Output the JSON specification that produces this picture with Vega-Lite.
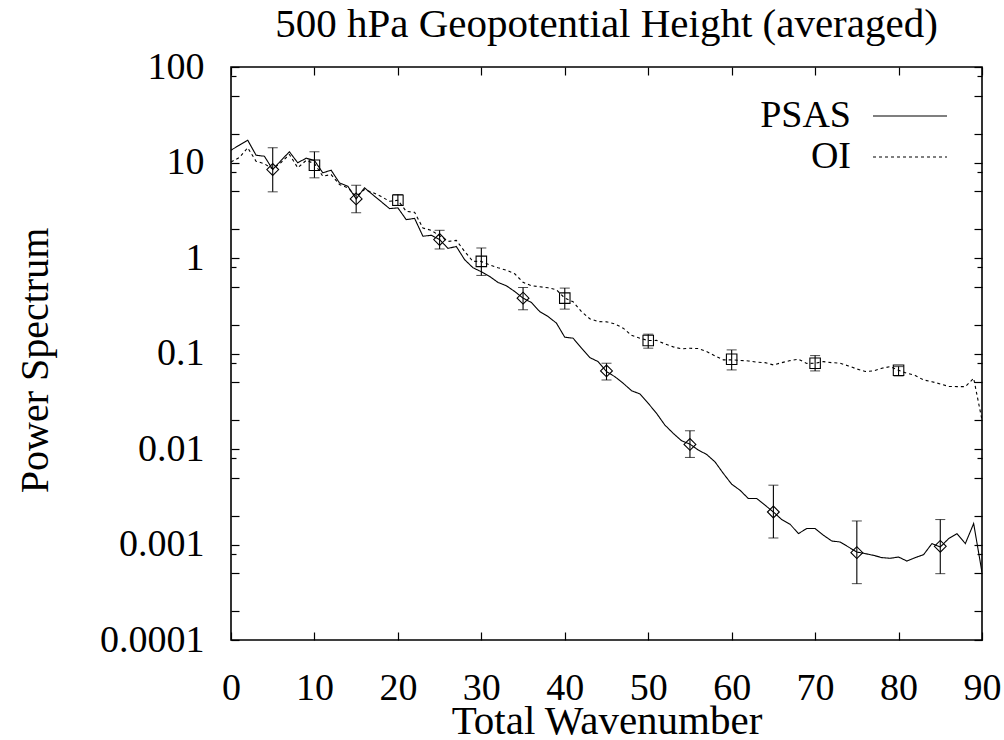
{
  "$schema": "https://vega.github.io/schema/vega-lite/v6.json",
  "width": 751,
  "height": 573,
  "autosize": {"type": "none"},
  "padding": {"left": 231, "top": 67, "right": 22, "bottom": 100},
  "background": "white",
  "title": {
    "text": "500 hPa Geopotential Height (averaged)",
    "font": "Liberation Serif",
    "fontSize": 41,
    "fontWeight": "normal",
    "color": "black",
    "anchor": "middle",
    "baseline": "alphabetic",
    "offset": -30
  },
  "config": {
    "view": {"stroke": "black", "strokeWidth": 1.6},
    "axis": {
      "grid": false,
      "domain": false,
      "labelFont": "Liberation Serif",
      "labelFontSize": 38,
      "labelColor": "black",
      "titleFont": "Liberation Serif",
      "titleFontSize": 40,
      "titleFontWeight": "normal",
      "titleColor": "black",
      "tickColor": "black",
      "tickWidth": 1.2,
      "labelFlush": false,
      "labelOverlap": false,
      "labelBound": false
    },
    "legend": {
      "labelFont": "Liberation Serif",
      "labelFontSize": 38,
      "labelColor": "black"
    }
  },
  "datasets": {
    "curves": [
      {"k":0,"series":"PSAS","value":13.46},{"k":1,"series":"PSAS","value":15.19},{"k":2,"series":"PSAS","value":17.14},{"k":3,"series":"PSAS","value":11.93},{"k":4,"series":"PSAS","value":11.64},{"k":5,"series":"PSAS","value":8.44},{"k":6,"series":"PSAS","value":10.5},{"k":7,"series":"PSAS","value":12.95},{"k":8,"series":"PSAS","value":9.93},{"k":9,"series":"PSAS","value":11.09},
      {"k":10,"series":"PSAS","value":10.5},{"k":11,"series":"PSAS","value":7.8},{"k":12,"series":"PSAS","value":8.3},{"k":13,"series":"PSAS","value":6.12},{"k":14,"series":"PSAS","value":5.64},{"k":15,"series":"PSAS","value":4.16},{"k":16,"series":"PSAS","value":5.43},{"k":17,"series":"PSAS","value":4.59},{"k":18,"series":"PSAS","value":3.89},{"k":19,"series":"PSAS","value":3.29},
      {"k":20,"series":"PSAS","value":3.35},{"k":21,"series":"PSAS","value":2.52},{"k":22,"series":"PSAS","value":2.6},{"k":23,"series":"PSAS","value":1.69},{"k":24,"series":"PSAS","value":1.73},{"k":25,"series":"PSAS","value":1.56},{"k":26,"series":"PSAS","value":1.26},{"k":27,"series":"PSAS","value":1.32},{"k":28,"series":"PSAS","value":0.96},{"k":29,"series":"PSAS","value":0.791},
      {"k":30,"series":"PSAS","value":0.718},{"k":31,"series":"PSAS","value":0.641},{"k":32,"series":"PSAS","value":0.555},{"k":33,"series":"PSAS","value":0.512},{"k":34,"series":"PSAS","value":0.446},{"k":35,"series":"PSAS","value":0.38},{"k":36,"series":"PSAS","value":0.342},{"k":37,"series":"PSAS","value":0.275},{"k":38,"series":"PSAS","value":0.244},{"k":39,"series":"PSAS","value":0.208},
      {"k":40,"series":"PSAS","value":0.148},{"k":41,"series":"PSAS","value":0.1447},{"k":42,"series":"PSAS","value":0.1137},{"k":43,"series":"PSAS","value":0.0906},{"k":44,"series":"PSAS","value":0.0822},{"k":45,"series":"PSAS","value":0.0646},{"k":46,"series":"PSAS","value":0.0572},{"k":47,"series":"PSAS","value":0.0488},{"k":48,"series":"PSAS","value":0.0408},{"k":49,"series":"PSAS","value":0.0377},
      {"k":50,"series":"PSAS","value":0.0301},{"k":51,"series":"PSAS","value":0.0236},{"k":52,"series":"PSAS","value":0.0178},{"k":53,"series":"PSAS","value":0.01458},{"k":54,"series":"PSAS","value":0.01219},{"k":55,"series":"PSAS","value":0.01125},{"k":56,"series":"PSAS","value":0.00974},{"k":57,"series":"PSAS","value":0.00878},{"k":58,"series":"PSAS","value":0.00734},{"k":59,"series":"PSAS","value":0.00555},
      {"k":60,"series":"PSAS","value":0.00428},{"k":61,"series":"PSAS","value":0.0037},{"k":62,"series":"PSAS","value":0.00303},{"k":63,"series":"PSAS","value":0.00303},{"k":64,"series":"PSAS","value":0.00258},{"k":65,"series":"PSAS","value":0.00219},{"k":66,"series":"PSAS","value":0.001825},{"k":67,"series":"PSAS","value":0.00163},{"k":68,"series":"PSAS","value":0.0013},{"k":69,"series":"PSAS","value":0.00147},
      {"k":70,"series":"PSAS","value":0.00147},{"k":71,"series":"PSAS","value":0.00125},{"k":72,"series":"PSAS","value":0.001088},{"k":73,"series":"PSAS","value":0.001062},{"k":74,"series":"PSAS","value":0.000941},{"k":75,"series":"PSAS","value":0.000834},{"k":76,"series":"PSAS","value":0.000803},{"k":77,"series":"PSAS","value":0.00077},{"k":78,"series":"PSAS","value":0.000729},{"k":79,"series":"PSAS","value":0.000717},
      {"k":80,"series":"PSAS","value":0.000739},{"k":81,"series":"PSAS","value":0.000671},{"k":82,"series":"PSAS","value":0.000729},{"k":83,"series":"PSAS","value":0.000783},{"k":84,"series":"PSAS","value":0.001022},{"k":85,"series":"PSAS","value":0.000941},{"k":86,"series":"PSAS","value":0.001153},{"k":87,"series":"PSAS","value":0.0013},{"k":88,"series":"PSAS","value":0.001022},{"k":89,"series":"PSAS","value":0.001657},
      {"k":90,"series":"PSAS","value":0.000511},
      {"k":0,"series":"OI","value":10.12},{"k":1,"series":"OI","value":11.28},{"k":2,"series":"OI","value":14.27},{"k":3,"series":"OI","value":10.32},{"k":4,"series":"OI","value":9.69},{"k":5,"series":"OI","value":8.59},{"k":6,"series":"OI","value":10.0},{"k":7,"series":"OI","value":12.13},{"k":8,"series":"OI","value":8.8},{"k":9,"series":"OI","value":10.5},
      {"k":10,"series":"OI","value":9.76},{"k":11,"series":"OI","value":7.18},{"k":12,"series":"OI","value":7.48},{"k":13,"series":"OI","value":5.88},{"k":14,"series":"OI","value":5.43},{"k":15,"series":"OI","value":4.43},{"k":16,"series":"OI","value":5.21},{"k":17,"series":"OI","value":4.84},{"k":18,"series":"OI","value":4.4},{"k":19,"series":"OI","value":3.93},
      {"k":20,"series":"OI","value":4.02},{"k":21,"series":"OI","value":3.08},{"k":22,"series":"OI","value":3.01},{"k":23,"series":"OI","value":2.06},{"k":24,"series":"OI","value":1.95},{"k":25,"series":"OI","value":1.71},{"k":26,"series":"OI","value":1.49},{"k":27,"series":"OI","value":1.53},{"k":28,"series":"OI","value":1.17},{"k":29,"series":"OI","value":0.921},
      {"k":30,"series":"OI","value":0.921},{"k":31,"series":"OI","value":0.845},{"k":32,"series":"OI","value":0.791},{"k":33,"series":"OI","value":0.745},{"k":34,"series":"OI","value":0.684},{"k":35,"series":"OI","value":0.557},{"k":36,"series":"OI","value":0.512},{"k":37,"series":"OI","value":0.5},{"k":38,"series":"OI","value":0.488},{"k":39,"series":"OI","value":0.465},
      {"k":40,"series":"OI","value":0.38},{"k":41,"series":"OI","value":0.348},{"k":42,"series":"OI","value":0.275},{"k":43,"series":"OI","value":0.231},{"k":44,"series":"OI","value":0.216},{"k":45,"series":"OI","value":0.2146},{"k":46,"series":"OI","value":0.2045},{"k":47,"series":"OI","value":0.1843},{"k":48,"series":"OI","value":0.1548},{"k":49,"series":"OI","value":0.1447},
      {"k":50,"series":"OI","value":0.1366},{"k":51,"series":"OI","value":0.1371},{"k":52,"series":"OI","value":0.1261},{"k":53,"series":"OI","value":0.1173},{"k":54,"series":"OI","value":0.1117},{"k":55,"series":"OI","value":0.1135},{"k":56,"series":"OI","value":0.1126},{"k":57,"series":"OI","value":0.1047},{"k":58,"series":"OI","value":0.0944},{"k":59,"series":"OI","value":0.0857},
      {"k":60,"series":"OI","value":0.0857},{"k":61,"series":"OI","value":0.0847},{"k":62,"series":"OI","value":0.0836},{"k":63,"series":"OI","value":0.0811},{"k":64,"series":"OI","value":0.0802},{"k":65,"series":"OI","value":0.0759},{"k":66,"series":"OI","value":0.0802},{"k":67,"series":"OI","value":0.0843},{"k":68,"series":"OI","value":0.0871},{"k":69,"series":"OI","value":0.0787},
      {"k":70,"series":"OI","value":0.0791},{"k":71,"series":"OI","value":0.0822},{"k":72,"series":"OI","value":0.0802},{"k":73,"series":"OI","value":0.0791},{"k":74,"series":"OI","value":0.0741},{"k":75,"series":"OI","value":0.0689},{"k":76,"series":"OI","value":0.0649},{"k":77,"series":"OI","value":0.0657},{"k":78,"series":"OI","value":0.0701},{"k":79,"series":"OI","value":0.0729},
      {"k":80,"series":"OI","value":0.0668},{"k":81,"series":"OI","value":0.0621},{"k":82,"series":"OI","value":0.0589},{"k":83,"series":"OI","value":0.0528},{"k":84,"series":"OI","value":0.0507},{"k":85,"series":"OI","value":0.048},{"k":86,"series":"OI","value":0.0452},{"k":87,"series":"OI","value":0.045},{"k":88,"series":"OI","value":0.045},{"k":89,"series":"OI","value":0.055},
      {"k":90,"series":"OI","value":0.0201}
    ],
    "bars": [
      {"k":5,"run":"PSAS","value":8.44,"lo":4.93,"hi":14.27},
      {"k":15,"run":"PSAS","value":4.16,"lo":2.97,"hi":5.78},
      {"k":25,"run":"PSAS","value":1.56,"lo":1.243,"hi":1.95},
      {"k":35,"run":"PSAS","value":0.38,"lo":0.287,"hi":0.491},
      {"k":45,"run":"PSAS","value":0.0657,"lo":0.0528,"hi":0.0791},
      {"k":55,"run":"PSAS","value":0.01117,"lo":0.00816,"hi":0.01552},
      {"k":65,"run":"PSAS","value":0.00219,"lo":0.00117,"hi":0.00418},
      {"k":75,"run":"PSAS","value":0.000822,"lo":0.000389,"hi":0.001764},
      {"k":85,"run":"PSAS","value":0.000957,"lo":0.000495,"hi":0.001825},
      {"k":10,"run":"OI","value":9.37,"lo":6.91,"hi":12.95},
      {"k":20,"run":"OI","value":4.02,"lo":3.56,"hi":4.62},
      {"k":30,"run":"OI","value":0.921,"lo":0.657,"hi":1.273},
      {"k":40,"run":"OI","value":0.38,"lo":0.2916,"hi":0.484},
      {"k":50,"run":"OI","value":0.1366,"lo":0.1137,"hi":0.1594},
      {"k":60,"run":"OI","value":0.0871,"lo":0.0673,"hi":0.1091},
      {"k":70,"run":"OI","value":0.0791,"lo":0.0657,"hi":0.0951},
      {"k":80,"run":"OI","value":0.0668,"lo":0.0582,"hi":0.0729}
    ]
  },
  "layer": [
    {
      "data": {"name": "curves"},
      "mark": {"type": "line", "color": "black", "strokeWidth": 1.1, "clip": true},
      "encoding": {
        "x": {
          "field": "k", "type": "quantitative",
          "scale": {"domain": [0, 90], "nice": false, "zero": false},
          "axis": {
            "values": [0, 10, 20, 30, 40, 50, 60, 70, 80, 90],
            "tickSize": -8,
            "labelPadding": 37,
            "title": "Total Wavenumber",
            "titleFontSize": 41,
            "titleBaseline": "alphabetic",
            "titleY": 93
          }
        },
        "y": {
          "field": "value", "type": "quantitative",
          "scale": {"type": "log", "domain": [0.0001, 100], "nice": false},
          "axis": {
            "values": [0.0001, 0.0002, 0.0005, 0.0008, 0.001, 0.002, 0.005, 0.008, 0.01, 0.02, 0.05, 0.08, 0.1, 0.2, 0.5, 0.8, 1, 2, 5, 8, 10, 20, 50, 80, 100],
            "labelExpr": "indexof([0.0001, 0.001, 0.01, 0.1, 1, 10, 100], datum.value) >= 0 ? toString(datum.value) : ''",
            "tickSize": {"condition": {"test": "indexof([0.0008, 0.008, 0.08, 0.8, 8, 80], datum.value) >= 0", "value": -5}, "value": -8},
            "labelPadding": 35,
            "title": "Power Spectrum",
            "titleAngle": -90,
            "titleX": -196,
            "titleY": 293,
            "titleAlign": "center",
            "titleBaseline": "middle"
          }
        },
        "strokeDash": {
          "field": "series", "type": "nominal",
          "scale": {"domain": ["PSAS", "OI"], "range": [[1, 0], [3, 3]]},
          "legend": {
            "title": null,
            "orient": "none",
            "legendX": 623,
            "legendY": 30,
            "padding": 0,
            "symbolType": "M0,0H7.4",
            "symbolSize": 400,
            "symbolStrokeWidth": 1.1,
            "symbolStrokeColor": "black",
            "symbolFillColor": "transparent",
            "labelAlign": "right",
            "labelOffset": -41,
            "rowPadding": 3
          }
        }
      }
    },
    {
      "data": {"name": "bars"},
      "mark": {"type": "errorbar", "ticks": {"size": 10, "color": "black"}, "rule": {"color": "black", "strokeWidth": 1.1}},
      "encoding": {
        "x": {"field": "k", "type": "quantitative", "axis": null},
        "y": {"field": "lo", "type": "quantitative", "axis": null},
        "y2": {"field": "hi"}
      }
    },
    {
      "data": {"name": "bars"},
      "transform": [{"filter": "datum.run === 'PSAS'"}],
      "mark": {"type": "point", "shape": "diamond", "filled": false, "color": "black", "strokeWidth": 1.1, "opacity": 1, "size": 140},
      "encoding": {
        "x": {"field": "k", "type": "quantitative", "axis": null},
        "y": {"field": "value", "type": "quantitative", "axis": null}
      }
    },
    {
      "data": {"name": "bars"},
      "transform": [{"filter": "datum.run === 'OI'"}],
      "mark": {"type": "point", "shape": "square", "filled": false, "color": "black", "strokeWidth": 1.1, "opacity": 1, "size": 110},
      "encoding": {
        "x": {
          "field": "k", "type": "quantitative",
          "axis": {"orient": "top", "values": [0, 10, 20, 30, 40, 50, 60, 70, 80, 90], "tickSize": -8, "labels": false, "title": null}
        },
        "y": {
          "field": "value", "type": "quantitative",
          "axis": {
            "orient": "right",
            "values": [0.0001, 0.0002, 0.0005, 0.0008, 0.001, 0.002, 0.005, 0.008, 0.01, 0.02, 0.05, 0.08, 0.1, 0.2, 0.5, 0.8, 1, 2, 5, 8, 10, 20, 50, 80, 100],
            "tickSize": {"condition": {"test": "indexof([0.0008, 0.008, 0.08, 0.8, 8, 80], datum.value) >= 0", "value": -5}, "value": -8},
            "labels": false,
            "title": null
          }
        }
      }
    }
  ],
  "resolve": {"axis": {"x": "independent", "y": "independent"}}
}
